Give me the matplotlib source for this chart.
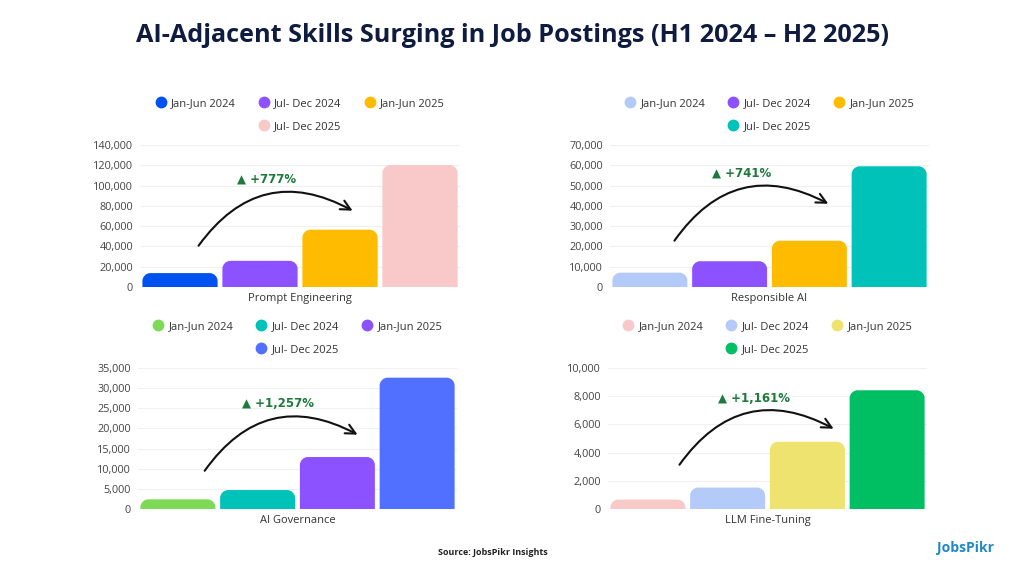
import matplotlib.pyplot as plt
from matplotlib.patches import PathPatch, FancyArrowPatch
from matplotlib.path import Path
from matplotlib.lines import Line2D
from matplotlib.ticker import FuncFormatter

plt.rcParams['font.family'] = ['Open Sans', 'DejaVu Sans']

# data
periods = ['Jan-Jun 2024', 'Jul- Dec 2024', 'Jan-Jun 2025', 'Jul- Dec 2025']
skills = ['Prompt Engineering', 'Responsible AI', 'AI Governance', 'LLM Fine-Tuning']
prompt_eng = [13700, 25800, 56500, 120200]
responsible_ai = [7070, 12700, 22800, 59500]
ai_governance = [2400, 4700, 12900, 32600]
llm_finetune = [670, 1520, 4770, 8420]
growth_labels = ['+777%', '+741%', '+1,257%', '+1,161%']
y_max = [140000, 70000, 35000, 10000]
y_step = [20000, 10000, 5000, 2000]

colors = [
    ['#0052f0', '#8c52ff', '#ffbb00', '#f9c8c8'],
    ['#b4caf9', '#8c52ff', '#ffbb00', '#00c2b8'],
    ['#7ed957', '#00c2b8', '#8c52ff', '#5170ff'],
    ['#f9c8c8', '#b4caf9', '#eee36e', '#00bf63'],
]

# axes rectangles in pixels (left, top, right, bottom) and arrow / label placement
W, H = 1024, 576
boxes = [(140, 145, 460, 287), (610, 145, 929, 287),
         (138, 368, 457, 509), (608, 368, 927, 509)]
arrows = [((0.178, 0.275), (0.672, 0.528)),
          ((0.197, 0.31), (0.692, 0.577)),
          ((0.204, 0.255), (0.696, 0.518)),
          ((0.219, 0.298), (0.715, 0.56))]
label_pos = [(0.394, 0.76), (0.414, 0.803), (0.439, 0.745), (0.458, 0.787)]


def rounded_top(x0, w, h, rx, ry):
    # bar outline with rounded top corners (radius rx in x units, ry in y units)
    ry = min(ry, h)
    k = 0.5523
    verts = [(x0, 0), (x0, h - ry),
             (x0, h - ry + k * ry), (x0 + rx - k * rx, h), (x0 + rx, h),
             (x0 + w - rx, h),
             (x0 + w - rx + k * rx, h), (x0 + w, h - ry + k * ry), (x0 + w, h - ry),
             (x0 + w, 0), (x0, 0)]
    codes = [Path.MOVETO, Path.LINETO,
             Path.CURVE4, Path.CURVE4, Path.CURVE4,
             Path.LINETO,
             Path.CURVE4, Path.CURVE4, Path.CURVE4,
             Path.LINETO, Path.CLOSEPOLY]
    return Path(verts, codes)


fig = plt.figure(figsize=(10.24, 5.76), dpi=100)
fig.patch.set_facecolor('white')

fig.text(0.5, 1 - 36 / H, 'AI-Adjacent Skills Surging in Job Postings (H1 2024 – H2 2025)',
         ha='center', va='center', fontsize=18.2, fontweight='bold', color='#0f1c3f')

all_values = [prompt_eng, responsible_ai, ai_governance, llm_finetune]

for i, vals in enumerate(all_values):
    l, t, r, b = boxes[i]
    ax = fig.add_axes([l / W, 1 - b / H, (r - l) / W, (b - t) / H])
    ax.set_xlim(-0.5, 3.5)
    ax.set_ylim(0, y_max[i])
    ax.set_yticks(range(0, y_max[i] + 1, y_step[i]))
    ax.yaxis.set_major_formatter(FuncFormatter(lambda v, p: f'{int(v):,}'))
    ax.tick_params(axis='y', length=0, labelsize=7.8, labelcolor='#444444', pad=5)
    ax.set_xticks([])
    ax.set_xlabel(skills[i], fontsize=8, color='#333333', labelpad=4)
    for s in ax.spines.values():
        s.set_visible(False)
    ax.grid(axis='y', color='#f0f0f0', linewidth=0.8)
    ax.set_axisbelow(True)

    bars = ax.bar(range(4), vals, width=0.94, color=colors[i])
    # swap the square bars for ones with rounded tops (radius ~8 px)
    rx = 8.0 / ((r - l) / 4.0)
    ry = 8.0 * y_max[i] / (b - t)
    for bar, c in zip(bars, colors[i]):
        x0, w, h = bar.get_x(), bar.get_width(), bar.get_height()
        bar.set_visible(False)
        ax.add_patch(PathPatch(rounded_top(x0, w, h, rx, ry), fc=c, ec='none'))

    # legend: 3 on first row, 4th centered on second row
    hs = [Line2D([], [], marker='o', ls='none', markersize=7.5, color=c) for c in colors[i]]
    blank = Line2D([], [], ls='none')
    handles = [hs[0], blank, hs[1], hs[3], hs[2], blank]
    labels = [periods[0], '', periods[1], periods[3], periods[2], '']
    ax.legend(handles, labels, ncol=3, loc='lower center', bbox_to_anchor=(0.5, 1.02),
              frameon=False, fontsize=8, labelcolor='#333333', handletextpad=0.45,
              columnspacing=2.0, handlelength=1.0, labelspacing=1.1)

    # growth arrow
    (sx, sy), (ex, ey) = arrows[i]
    ax.add_patch(FancyArrowPatch((sx, sy), (ex, ey), transform=ax.transAxes,
                                 connectionstyle='arc3,rad=-0.45',
                                 arrowstyle='->,head_length=7,head_width=3.5',
                                 color='#111111', lw=1.5, zorder=5))
    ax.text(label_pos[i][0], label_pos[i][1], '▲ ' + growth_labels[i], transform=ax.transAxes,
            ha='center', va='center', fontsize=8.5, fontweight='bold', color='#1e7a3c',
            family=['DejaVu Sans'])

fig.text(493 / W, 1 - 552 / H, 'Source: JobsPikr Insights', ha='center', va='center',
         fontsize=6.5, fontweight='bold', color='#222222')
fig.text(966 / W, 1 - 548 / H, 'JobsPikr', ha='center', va='center',
         fontsize=10, fontweight='bold', color='#1e88c8')

fig.savefig('out.png', dpi=100)
